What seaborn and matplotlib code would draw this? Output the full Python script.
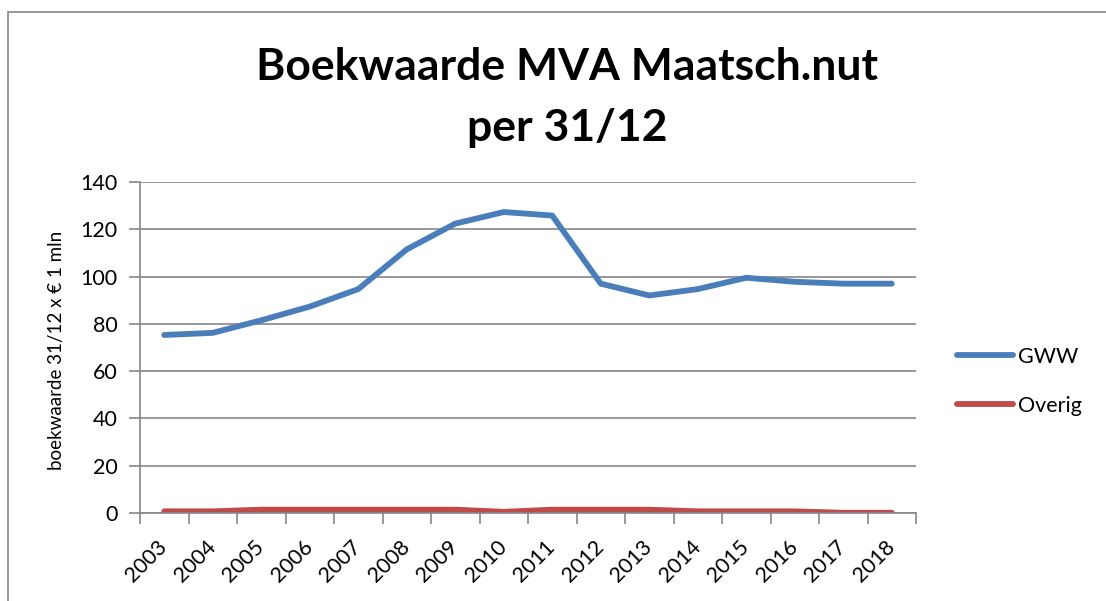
import matplotlib
matplotlib.use('Agg')
import matplotlib.pyplot as plt
import numpy as np
import pandas as pd
import seaborn as sns
from matplotlib.patches import Rectangle

# data
years = ['2003', '2004', '2005', '2006', '2007', '2008', '2009', '2010',
         '2011', '2012', '2013', '2014', '2015', '2016', '2017', '2018']
gww = [75.3, 76.2, 81.5, 87.3, 94.7, 111.5, 122.4, 127.3,
       125.8, 97.0, 92.0, 94.7, 99.5, 97.8, 97.0, 97.0]
overig = [0.7, 0.7, 1.4, 1.4, 1.4, 1.4, 1.4, 0.5,
          1.4, 1.4, 1.4, 0.7, 0.7, 0.7, 0.1, 0.1]
series_names = ['GWW', 'Overig']
colors = ['#4A7EBB', '#BE4B48']
y_ticks = [0, 20, 40, 60, 80, 100, 120, 140]

df = pd.DataFrame({
    'jaar': years * 2,
    'waarde': gww + overig,
    'reeks': [series_names[0]] * len(years) + [series_names[1]] * len(years),
})

sns.set_style('white')
plt.rcParams['font.family'] = ['Lato', 'DejaVu Sans']
plt.rcParams['text.color'] = 'black'
plt.rcParams['xtick.labelcolor'] = 'black'
plt.rcParams['ytick.labelcolor'] = 'black'

grid_col = '#868686'
fig = plt.figure(figsize=(11.06, 6.01), dpi=100)
ax = fig.add_axes([140 / 1106, 1 - 513 / 601, (916 - 140) / 1106, (513 - 182) / 601])

sns.lineplot(data=df, x='jaar', y='waarde', hue='reeks', palette=colors,
             linewidth=4.2, solid_capstyle='round', ax=ax, legend=True)

ax.set_xlim(-0.5, len(years) - 0.5)
ax.set_ylim(0, 140)
ax.set_yticks(y_ticks)
ax.yaxis.grid(True, color=grid_col, linewidth=1.2)
ax.set_axisbelow(True)

# category labels at centres, tick marks at the boundaries (Excel style)
ax.set_xticks(range(len(years)))
ax.set_xticks(np.arange(-0.5, len(years), 1.0), minor=True)
ax.set_xticklabels(years, rotation=45, ha='right', va='center',
                   rotation_mode='anchor', fontsize=15.5)
ax.tick_params(axis='x', which='major', length=0, pad=22, labelcolor='black')
ax.tick_params(axis='x', which='minor', length=8, width=1.2, color=grid_col,
               direction='out', bottom=True)
ax.tick_params(axis='y', length=8, width=1.2, color=grid_col,
               direction='out', left=True, labelsize=15.5, pad=8,
               labelcolor='black')

for side in ['top', 'right']:
    ax.spines[side].set_visible(False)
for side in ['left', 'bottom']:
    ax.spines[side].set_color(grid_col)
    ax.spines[side].set_linewidth(1.2)

ax.set_xlabel('')
ax.set_ylabel('')
fig.text(57 / 1106, 1 - 350 / 601, 'boekwaarde 31/12 x € 1 mln', rotation=90,
         ha='center', va='center', fontsize=13.5, color='black')

fig.text(567 / 1106, 1 - 67 / 601, 'Boekwaarde MVA Maatsch.nut', ha='center',
         va='center', fontsize=32, fontweight='bold', color='black')
fig.text(567 / 1106, 1 - 128 / 601, 'per 31/12', ha='center',
         va='center', fontsize=32, fontweight='bold', color='black')

handles, labels = ax.get_legend_handles_labels()
leg = ax.legend(handles, labels, loc='center left',
                bbox_to_anchor=(957 / 1106, 1 - 381.5 / 601),
                bbox_transform=fig.transFigure, frameon=False, fontsize=15.5,
                handlelength=2.6, handletextpad=0.25, labelspacing=1.35,
                borderpad=0, borderaxespad=0)
for t in leg.get_texts():
    t.set_color('black')

# chart-area border like the Excel chart
fig.patches.append(Rectangle((8 / 1106, -0.05), 1.05, 1 - 12 / 601 + 0.05,
                             transform=fig.transFigure, fill=False,
                             edgecolor=grid_col, linewidth=1.2))

fig.savefig('out.png', dpi=100)
